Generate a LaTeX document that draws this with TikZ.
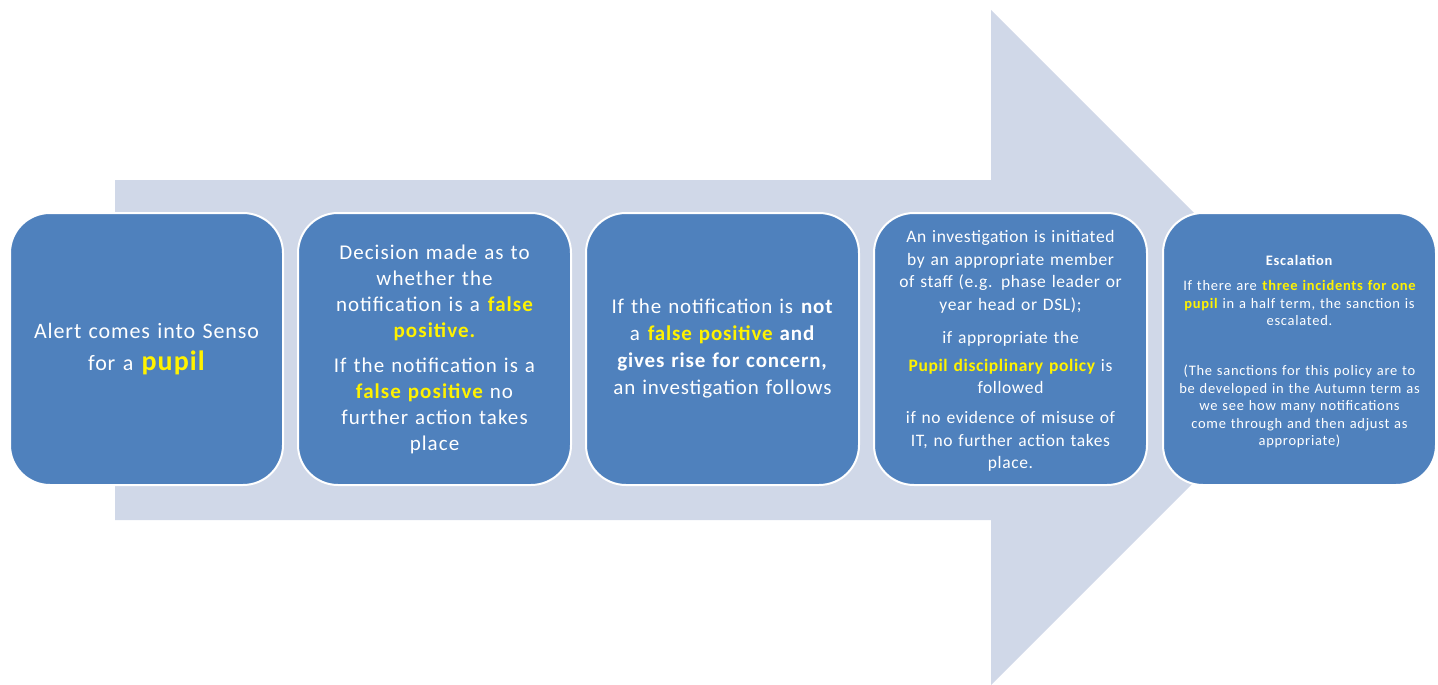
\documentclass[tikz,border=0pt]{standalone}
\usepackage{fontspec}
\setmainfont{Carlito}
\newfontfamily\lsA{Carlito}[LetterSpace=4]
\newfontfamily\lsB{Carlito}[LetterSpace=5]
\newfontfamily\lsC{Carlito}[LetterSpace=3.5]
\definecolor{boxblue}{HTML}{4F81BD}
\definecolor{arrowfill}{HTML}{D0D8E8}
\newcommand{\ylw}[1]{\textbf{\color{yellow}#1}}
\begin{document}
\begin{tikzpicture}[x=1pt,y=-1pt,
  stepbox/.style={draw=white, line width=2pt, fill=boxblue, rounded corners=40pt,
    minimum width=273pt, minimum height=272pt, inner sep=0pt,
    text width=266pt, align=center, text=white},
  boxtext/.style={inner sep=0pt, text width=266pt, align=center, text=white}]
\useasboundingbox (0,0) rectangle (1438,685);
\fill[arrowfill] (115,180) -- (991,180) -- (991,10) -- (1328.5,347.5) -- (991,685) -- (991,520) -- (115,520) -- cycle;
\node[stepbox, font=\lsA\fontsize{22}{32}\selectfont] (b1) at (146.5,349)
  {Alert comes into Senso\\ for a {\fontsize{28}{32}\selectfont\ylw{pupil}}};
\node[stepbox, font=\lsB\fontsize{21}{26}\selectfont] (b2) at (434.5,349)
  {Decision made as to\\ whether the\\ notification is a \ylw{false}\\ \ylw{positive.}\\[9pt]
   If the notification is a\\ \ylw{false positive} no\\ further action takes\\ place};
\node[stepbox, font=\lsA\fontsize{21}{27}\selectfont] (b3) at (722.5,349)
  {If the notification is \textbf{not}\\ a \ylw{false positive} \textbf{and}\\ \textbf{gives rise for concern,}\\ an investigation follows};
\node[stepbox] (b4) at (1010.5,349) {};
\node[boxtext, font=\lsC\fontsize{17.5}{22.5}\selectfont] (t4) at ([yshift=-2pt]b4.center)
  {An investigation is initiated\\ by an appropriate member\\ of staff (e.g. phase leader or\\ year head or DSL);\\[10.5pt]
   if appropriate the\\[5.5pt] \ylw{Pupil disciplinary policy} is\\ followed\\[7.5pt]
   if no evidence of misuse of\\ IT, no further action takes\\ place.};
\node[stepbox] (b5) at (1299.5,349) {};
\node[boxtext, font=\lsB\fontsize{14.5}{17.5}\selectfont] (t5) at ([yshift=-3pt]b5.center)
  {\textbf{Escalation}\\[7.5pt] If there are \ylw{three incidents for one}\\ \ylw{pupil} in a half term, the sanction is\\ escalated.\\[32.5pt]
   (The sanctions for this policy are to\\ be developed in the Autumn term as\\ we see how many notifications\\ come through and then adjust as\\ appropriate)};
\end{tikzpicture}
\end{document}
